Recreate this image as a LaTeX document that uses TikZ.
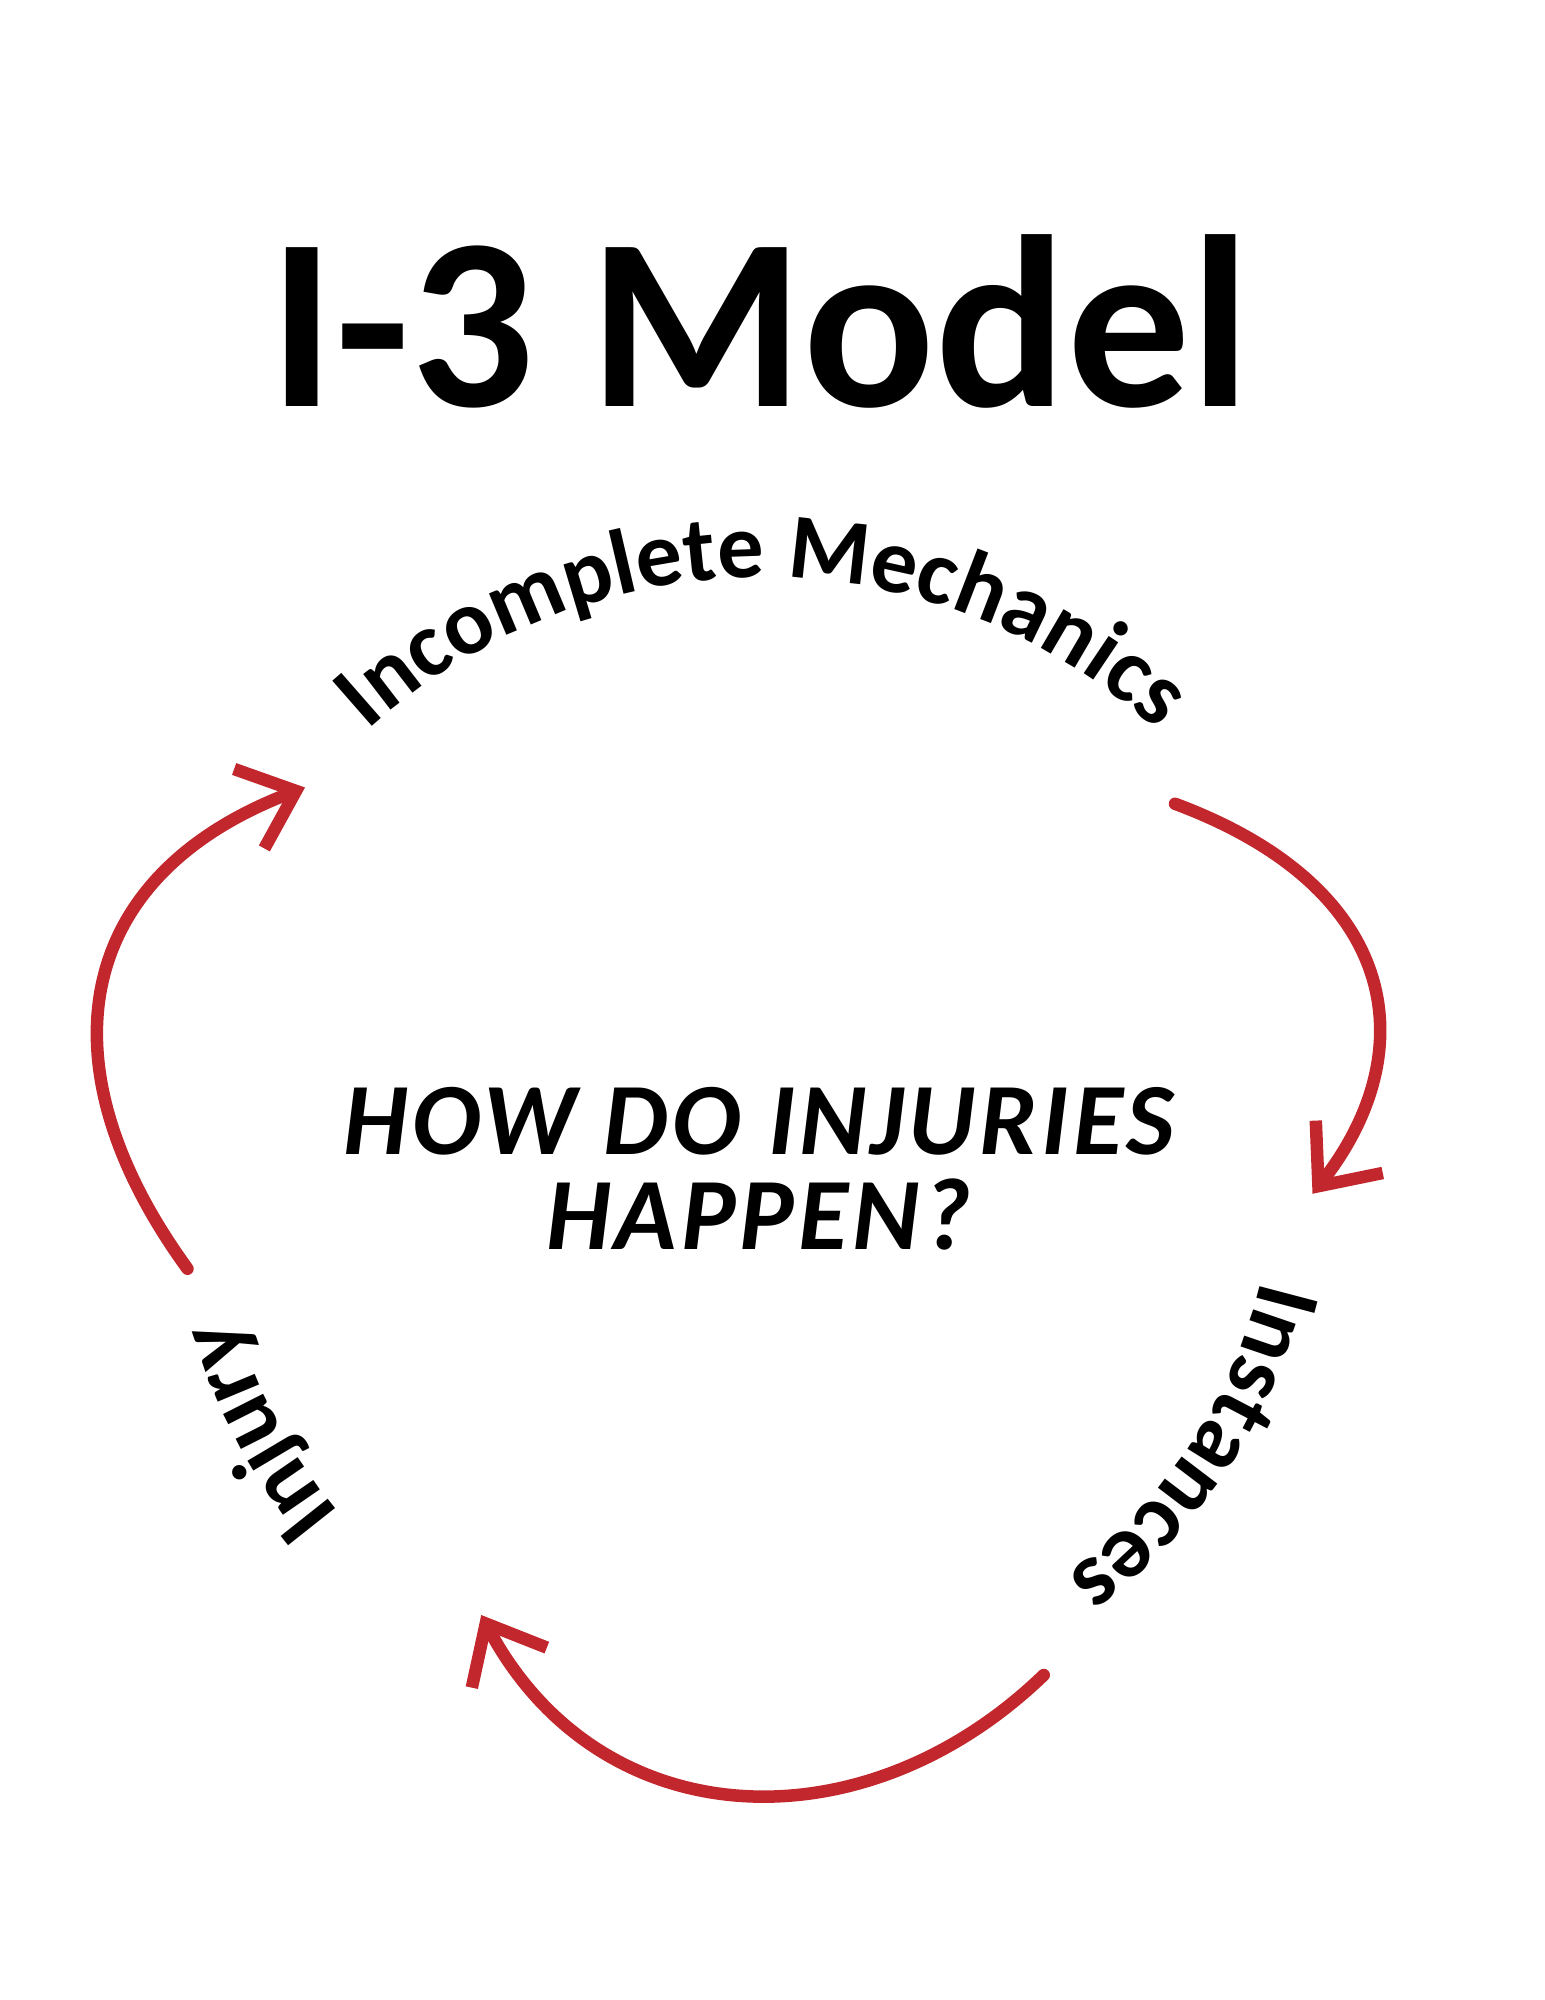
\documentclass[tikz,border=0pt]{standalone}
\usepackage{fontspec}
\setmainfont{Carlito}
\usetikzlibrary{decorations.text,arrows.meta}
\definecolor{ired}{HTML}{C1272D}
\begin{document}
\begin{tikzpicture}[x=0.5pt,y=0.5pt,
  arr/.style={ired,line width=5pt,line cap=round,-{Straight Barb[length=20pt,width=34pt,line width=5pt]}},
  curv/.style={decorate,decoration={text along path,text align=center,text format delimiters={|}{|}}}]
\useasboundingbox (0,0) rectangle (1236,-1600);
\coordinate (c) at (610,-930);
\node (title) at (608,-257) {\fontsize{98pt}{110pt}\selectfont\bfseries I-3 Model};
\node (q) at (607,-942) {\fontsize{41pt}{48pt}\selectfont\bfseries\itshape\addfontfeature{LetterSpace=4}\begin{tabular}{c}HOW DO INJURIES\\[-10pt] HAPPEN?\end{tabular}};
\path[curv,decoration={text={|\fontsize{37pt}{40pt}\selectfont\bfseries|Incomplete Mechanics}}]
  (c) ++(142:468) arc[start angle=142,end angle=38,radius=468];
\path[curv,decoration={text={|\fontsize{37pt}{40pt}\selectfont\bfseries|Instances}}]
  (c) ++(-5:410) arc[start angle=-5,end angle=-62,radius=410];
\path[curv,decoration={text={|\fontsize{37pt}{40pt}\selectfont\bfseries|Injury}}]
  (c) ++(226:440) arc[start angle=226,end angle=190,radius=440];
\coordinate (a1s) at (940,-643);
\coordinate (a1e) at (1050,-955);
\coordinate (a2s) at (835,-1340);
\coordinate (a2e) at (385,-1292);
\coordinate (a3s) at (150,-1015);
\coordinate (a3e) at (244,-630);
\draw[arr] (a1s) .. controls (1120,-710) and (1140,-840) .. (a1e);
\draw[arr] (a2s) .. controls (690,-1480) and (480,-1470) .. (a2e);
\draw[arr] (a3s) .. controls (30,-850) and (60,-700) .. (a3e);
\end{tikzpicture}
\end{document}
